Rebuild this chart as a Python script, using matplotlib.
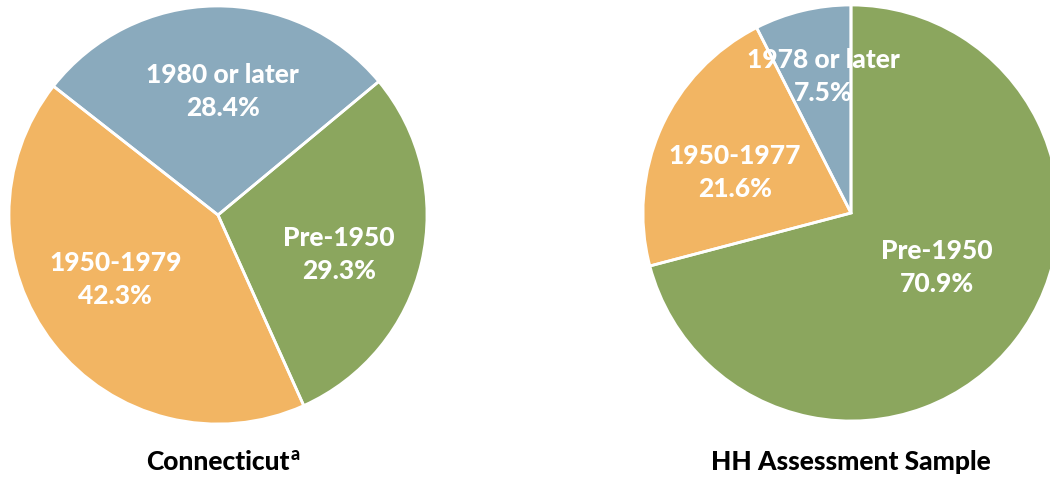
import matplotlib
matplotlib.use("Agg")
import matplotlib.pyplot as plt
import numpy as np

plt.rcParams["font.family"] = ["Lato", "DejaVu Sans"]

# left pie: Connecticut housing stock by year built
ct_labels = ["Pre-1950", "1950-1979", "1980 or later"]
ct_values = [29.3, 42.3, 28.4]

# right pie: HH assessment sample
hh_labels = ["Pre-1950", "1950-1977", "1978 or later"]
hh_values = [70.9, 21.6, 7.5]

colors = ["#8BA65E", "#F2B563", "#8AAABD"]

W, H = 1050, 478
fig = plt.figure(figsize=(W / 100, H / 100), dpi=100)


def draw_pie(cx, cy, r, labels, values, start, dists, offsets, title, sup=None):
    ax = fig.add_axes([(cx - r) / W, (H - cy - r) / H, 2 * r / W, 2 * r / H])
    wedges, _ = ax.pie(values, colors=colors, startangle=start, counterclock=False,
                       radius=1.0, wedgeprops=dict(edgecolor="none"))
    # white separators on top (they run over the labels in the original)
    ax.pie(values, colors=["none"] * 3, startangle=start, counterclock=False,
           radius=1.0, wedgeprops=dict(edgecolor="white", linewidth=2, fill=False, zorder=5))
    for w, lab, val, d, off in zip(wedges, labels, values, dists, offsets):
        ang = np.deg2rad((w.theta1 + w.theta2) / 2 + off)
        ax.text(d * np.cos(ang), d * np.sin(ang), f"{lab}\n{val:.1f}%", ha="center", va="center",
                color="white", fontsize=19, fontweight="black", linespacing=1.45, zorder=3)
    ax.set_xlim(-1, 1)
    ax.set_ylim(-1, 1)
    ax.set_aspect("equal")
    ax.axis("off")
    t = fig.text(cx / W, 1 - 462 / H, title, ha="center", va="center", fontsize=19,
                 fontweight="black")
    if sup:
        ax.annotate(sup, xy=(1.0, 1.0), xycoords=t, xytext=(0.5, 3), textcoords="offset points",
                    ha="left", va="top", fontsize=13, fontweight="black")


draw_pie(218, 215, 209, ct_labels, ct_values, 39.7, [0.61, 0.58, 0.59], [-5, -6, -3],
         "Connecticut", sup="a")
draw_pie(851, 213, 208, hh_labels, hh_values, 90, [0.49, 0.59, 0.67], [5, 5, -2],
         "HH Assessment Sample")

fig.savefig("out.png", dpi=100)
